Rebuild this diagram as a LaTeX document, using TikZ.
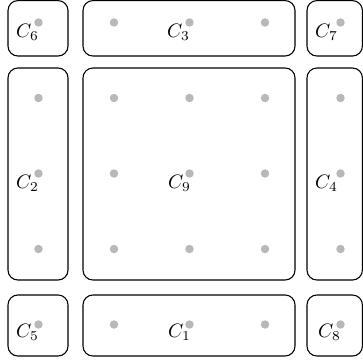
\documentclass[tikz,border=0pt]{standalone}
\begin{document}
\begin{tikzpicture}[x=0.5556pt,y=-0.5556pt,
  cell/.style={draw=black, line width=0.6pt, rounded corners=5.5pt},
  gdot/.style={circle, fill=black!28, inner sep=0pt, minimum size=4.7pt},
  lab/.style={inner sep=0pt, scale=1.08}]
\useasboundingbox (0,0) rectangle (363,362);
\clip (0,0) rectangle (363,362);
% boxes
\draw[cell] (8,0.6) rectangle (68,56);
\draw[cell] (83,0.6) rectangle (295,56);
\draw[cell] (307,0.6) rectangle (362.4,56);
\draw[cell] (8,68) rectangle (68,280);
\draw[cell] (83,68) rectangle (295,280);
\draw[cell] (307,68) rectangle (362.4,280);
\draw[cell] (8,295) rectangle (68,356);
\draw[cell] (83,295) rectangle (295,356);
\draw[cell] (307,295) rectangle (362.4,356);
% dots
\foreach \x [count=\i] in {38.5,114,189.5,265,340.5}
  \foreach \y [count=\j] in {22.5,98,173.5,249,324.5}
    \node[gdot] (p\i\j) at (\x,\y) {};
% labels
\node[lab] (l6) at ([xshift=-11*0.5556pt,yshift=-10*0.5556pt]p11) {$C_6$};
\node[lab] (l3) at ([xshift=-11*0.5556pt,yshift=-10*0.5556pt]p31) {$C_3$};
\node[lab] (l7) at ([xshift=-14*0.5556pt,yshift=-10*0.5556pt]p51) {$C_7$};
\node[lab] (l2) at ([xshift=-11*0.5556pt,yshift=-10*0.5556pt]p13) {$C_2$};
\node[lab] (l9) at ([xshift=-10*0.5556pt,yshift=-10*0.5556pt]p33) {$C_9$};
\node[lab] (l4) at ([xshift=-14*0.5556pt,yshift=-10*0.5556pt]p53) {$C_4$};
\node[lab] (l5) at ([xshift=-11*0.5556pt,yshift=-8*0.5556pt]p15) {$C_5$};
\node[lab] (l1) at ([xshift=-10*0.5556pt,yshift=-8*0.5556pt]p35) {$C_1$};
\node[lab] (l8) at ([xshift=-11*0.5556pt,yshift=-8*0.5556pt]p55) {$C_8$};
\end{tikzpicture}
\end{document}
